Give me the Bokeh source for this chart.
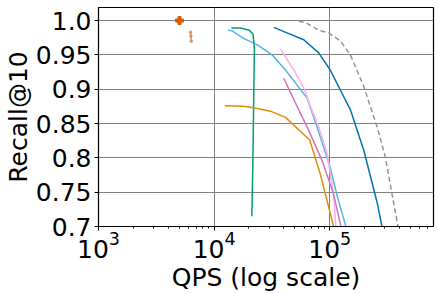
from bokeh.plotting import figure
from bokeh.models import Range1d, FixedTicker, CustomJSTickFormatter, LogTicker, Title
from bokeh.embed import file_html
from bokeh.resources import INLINE

# Data
blue_qps = [32800, 42700, 59600, 80300, 101000, 151000, 197000, 257000, 283000]
blue_rec = [0.990, 0.982, 0.972, 0.953, 0.928, 0.870, 0.811, 0.735, 0.700]

gray_qps = [54000, 61600, 80400, 98000, 124000, 151000, 197000, 257000, 303000, 346000, 390000]
gray_rec = [0.999, 0.997, 0.986, 0.982, 0.970, 0.950, 0.904, 0.845, 0.801, 0.747, 0.700]

sky_qps = [13200, 14300, 18000, 23500, 31700, 41400, 63700, 77700, 101000, 117000, 138000]
sky_rec = [0.986, 0.985, 0.974, 0.965, 0.950, 0.928, 0.887, 0.845, 0.786, 0.742, 0.700]

green_qps = [14100, 16900, 20200, 21700, 22300, 22000, 21600, 21200]
green_rec = [0.989, 0.989, 0.986, 0.980, 0.960, 0.884, 0.786, 0.715]

pink_qps = [37400, 48800, 60400, 68100, 80400, 94900, 108000, 113000]
pink_rec = [0.959, 0.928, 0.900, 0.875, 0.845, 0.806, 0.747, 0.700]

purple_qps = [40000, 52200, 65800, 85900, 108000, 125000]
purple_rec = [0.916, 0.875, 0.840, 0.796, 0.747, 0.700]

orange_qps = [12400, 18000, 22000, 30700, 41400, 67100, 83000, 108000]
orange_rec = [0.876, 0.875, 0.873, 0.868, 0.859, 0.826, 0.776, 0.700]

brown_qps = [6250, 6300, 6350]
brown_rec = [0.983, 0.977, 0.970]

plus_qps = [5020]
plus_rec = [1.0]

y_ticks = [0.7, 0.75, 0.8, 0.85, 0.9, 0.95, 1.0]
x_title = "QPS (log scale)"
y_title = "Recall@10"

p = figure(width=436, height=291, x_axis_type="log",
           x_range=Range1d(1e3, 7.9e5), y_range=Range1d(0.7, 1.019),
           output_backend="svg", toolbar_location=None,
           min_border_left=98, min_border_right=3, min_border_top=7, min_border_bottom=55)

p.line(blue_qps, blue_rec, line_color="#0173B2", line_width=1.5)
p.line(gray_qps, gray_rec, line_color="#949494", line_width=1.5, line_dash="5 3")
p.line(sky_qps, sky_rec, line_color="#56B4E9", line_width=1.5)
p.line(green_qps, green_rec, line_color="#029E73", line_width=1.5)
p.line(pink_qps, pink_rec, line_color="#FBAFE4", line_width=1.5)
p.line(purple_qps, purple_rec, line_color="#CC78BC", line_width=1.5)
p.line(orange_qps, orange_rec, line_color="#DE8F05", line_width=1.5)
p.line(brown_qps, brown_rec, line_color="#CA9161", line_width=2, line_alpha=0.8)
p.scatter(brown_qps, brown_rec, marker="circle", size=2.5, color="#CA9161", alpha=0.8)
p.scatter(plus_qps, plus_rec, marker="plus", size=8, color="#D55E00")

p.outline_line_color = "black"
p.outline_line_width = 1.2
p.background_fill_color = "white"
p.border_fill_color = "white"

p.xgrid.grid_line_color = "#808080"
p.ygrid.grid_line_color = "#808080"
p.xgrid.grid_line_width = 1
p.ygrid.grid_line_width = 1

p.xaxis.ticker = LogTicker(num_minor_ticks=10)
p.yaxis.ticker = FixedTicker(ticks=y_ticks)
p.yaxis.formatter = CustomJSTickFormatter(code="var s = tick.toFixed(2); if (s.endsWith('0')) s = s.slice(0,-1); return s;")

for ax in (p.xaxis[0], p.yaxis[0]):
    ax.major_label_text_font = "DejaVu Sans"
    ax.major_label_text_font_size = "25px"
    ax.major_label_text_color = "black"
    ax.axis_label_text_font = "DejaVu Sans"
    ax.axis_label_text_font_size = "25px"
    ax.axis_label_text_font_style = "normal"
    ax.axis_label_text_color = "black"
    ax.major_tick_in = 0
    ax.major_tick_out = 4
    ax.minor_tick_in = 0
    ax.minor_tick_out = 2
    ax.axis_line_color = "black"
    ax.major_tick_line_color = "black"
    ax.minor_tick_line_color = "black"

p.yaxis.minor_tick_line_color = None
p.yaxis.axis_label = y_title
p.xaxis.major_label_standoff = 0
p.yaxis.major_label_standoff = 3
p.yaxis.axis_label_standoff = 0

p.add_layout(Title(text=x_title, align="center", text_font="DejaVu Sans",
                   text_font_size="25px", text_font_style="normal",
                   text_color="black", standoff=0, offset=0), "below")

open("out.html", "w").write(file_html(p, INLINE))
